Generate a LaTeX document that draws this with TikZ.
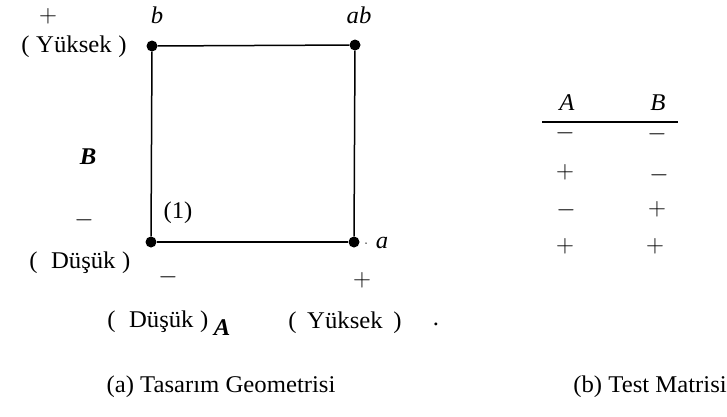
\documentclass[tikz,border=0pt]{standalone}
\usepackage{fontspec}
\setmainfont[FakeStretch=1.03]{Liberation Serif}
\begin{document}
\begin{tikzpicture}[x=1pt,y=-1pt,
  lbl/.style={inner sep=0pt,font=\fontsize{24}{28}\selectfont},
  sgn/.style={inner sep=0pt,font=\fontsize{30}{34}\selectfont},
  ital/.style={lbl,font=\fontsize{24}{28}\selectfont\itshape},
  bigit/.style={lbl,font=\fontsize{24}{28}\selectfont\bfseries\itshape},
  dot/.style={circle,fill=black,inner sep=0pt,minimum size=11pt},
  edge/.style={line width=1.5pt}]
\useasboundingbox (0,0) rectangle (727,416);
% corners
\node[dot] (n1) at (151,242) {};
\node[dot] (na) at (354,242) {};
\node[dot] (nb) at (152,46) {};
\node[dot] (nab) at (355,45) {};
\draw[edge] (nb) -- (nab);
\draw[edge] (nb) -- (n1);
\draw[edge] (nab) -- (na);
\draw[edge] (n1) -- (na);
% labels
\node[sgn] (pB) at (48,16) {$+$};
\node[lbl] (yB) at (74,47) {(\;Yüksek\;)};
\node[ital] (lb) at (157,15) {b};
\node[ital] (lab) at (359,15) {ab};
\node[bigit] (B) at (88,157) {B};
\node[sgn] (mB) at (84,220) {$-$};
\node[lbl] (one) at (178,213) {(1)};
\node[lbl] (dB) at (80,263) {(\;\;Düşük\;)};
\node[circle,fill=black,inner sep=0pt,minimum size=1.5pt] (sd) at (366,243) {};
\node[ital] (la) at (382,243) {a};
\node[sgn] (mA) at (168,277) {$-$};
\node[sgn] (pA) at (362,280) {$+$};
\node[lbl] (dA) at (158,322) {(\;\;Düşük\;)};
\node[bigit] (A) at (222,328) {A};
\node[lbl] (yA) at (345,323) {(\;\,Yüksek\;\,)};
\node[lbl] (dot2) at (436,324) {.};
% captions
\node[lbl] (capa) at (221,387) {(a) Tasarım Geometrisi};
\node[lbl,anchor=east] (capb) at (727,387) {(b) Test Matrisi};
% table
\node[ital] (hA) at (567,103) {A};
\node[ital] (hB) at (658,103) {B};
\coordinate (r1) at (542,122);
\coordinate (r2) at (678,122);
\draw[line width=1.2pt] (r1) -- (r2);
\node[sgn] (a1) at (565,133) {$-$};
\node[sgn] (b1) at (657,134) {$-$};
\node[sgn] (a2) at (565,172) {$+$};
\node[sgn] (b2) at (659,175) {$-$};
\node[sgn] (a3) at (566,210) {$-$};
\node[sgn] (b3) at (657,209) {$+$};
\node[sgn] (a4) at (565,246) {$+$};
\node[sgn] (b4) at (655,246) {$+$};
\end{tikzpicture}
\end{document}
